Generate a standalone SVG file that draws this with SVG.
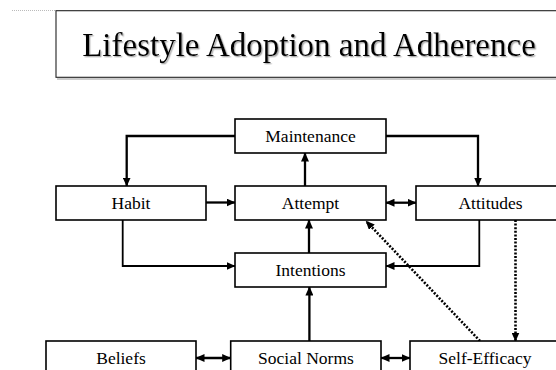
<svg xmlns="http://www.w3.org/2000/svg" width="556" height="370" viewBox="0 0 556 370">
<style>
.box{fill:#fff;stroke:#000;stroke-width:1.6}
.lbl{font-family:"Liberation Serif","Times New Roman",serif;font-size:17.5px;text-anchor:middle;fill:#000}
.c{fill:none;stroke:#000;stroke-width:2.3}
.thin{stroke-width:1.8}
.dot{fill:none;stroke:#000;stroke-width:2.6;stroke-dasharray:2 1.6}
</style>
<defs>
<marker id="ah" markerUnits="userSpaceOnUse" markerWidth="9" markerHeight="8" refX="8.5" refY="4" orient="auto-start-reverse">
<path d="M0,0 L9,4 L0,8 Z" fill="#000"/>
</marker>
<filter id="sh" x="-5%" y="-20%" width="110%" height="150%">
<feDropShadow dx="1.3" dy="1.3" stdDeviation="0.5" flood-color="#888" flood-opacity="0.7"/>
</filter>
</defs>
<rect width="556" height="370" fill="#fff"/>
<line x1="12" y1="10.5" x2="56" y2="10.5" stroke="#bbb" stroke-width="1" stroke-dasharray="1 1"/>
<g id="title">
<line x1="57" y1="79" x2="570" y2="79" stroke="#999" stroke-width="1.2"/>
<rect x="56" y="10.7" width="520" height="66.6" fill="#fff" stroke="#222" stroke-width="1.1"/>
<text x="309" y="55.5" filter="url(#sh)" style="font-family:'Liberation Serif','Times New Roman',serif;font-size:33px;text-anchor:middle;fill:#000">Lifestyle Adoption and Adherence</text>
</g>
<g id="connectors">
<path class="c" d="M235,136 H126.7 V186" marker-end="url(#ah)"/>
<path class="c" d="M386,136 H478 V186" marker-end="url(#ah)"/>
<path class="c" d="M305,186 V153" marker-end="url(#ah)"/>
<path class="c" d="M206,202.5 H235" marker-end="url(#ah)"/>
<path class="c thin" d="M122.7,220 V266 H235" marker-end="url(#ah)"/>
<path class="c" d="M309,253 V220" marker-end="url(#ah)"/>
<path class="c thin" d="M479.3,220 V266 H386" marker-end="url(#ah)"/>
<path class="c" d="M309.4,341 V287" marker-end="url(#ah)"/>
<path class="c" d="M386,202.7 H416" marker-start="url(#ah)" marker-end="url(#ah)"/>
<path class="c" d="M196,358 H230.7" marker-start="url(#ah)" marker-end="url(#ah)"/>
<path class="c" d="M381,358 H410" marker-start="url(#ah)" marker-end="url(#ah)"/>
<path class="dot" d="M515.5,220 V341" marker-end="url(#ah)"/>
<path class="dot" d="M480,341 L366,221" marker-end="url(#ah)"/>
</g>
<g id="maintenance"><rect class="box" x="235" y="119" width="151" height="34"/><text class="lbl" x="310.5" y="142">Maintenance</text></g>
<g id="habit"><rect class="box" x="56" y="186" width="150" height="34"/><text class="lbl" x="131" y="209">Habit</text></g>
<g id="attempt"><rect class="box" x="235" y="186" width="151" height="34"/><text class="lbl" x="310.5" y="209">Attempt</text></g>
<g id="attitudes"><rect class="box" x="416" y="186" width="149" height="34"/><text class="lbl" x="490.5" y="209">Attitudes</text></g>
<g id="intentions"><rect class="box" x="235" y="253" width="151" height="34"/><text class="lbl" x="310.5" y="276">Intentions</text></g>
<g id="beliefs"><rect class="box" x="46" y="341" width="150" height="34"/><text class="lbl" x="121" y="364">Beliefs</text></g>
<g id="socialnorms"><rect class="box" x="230.7" y="341" width="150.3" height="34"/><text class="lbl" x="306" y="364">Social Norms</text></g>
<g id="selfefficacy"><rect class="box" x="410" y="341" width="150" height="34"/><text class="lbl" x="485" y="364">Self-Efficacy</text></g>
</svg>
